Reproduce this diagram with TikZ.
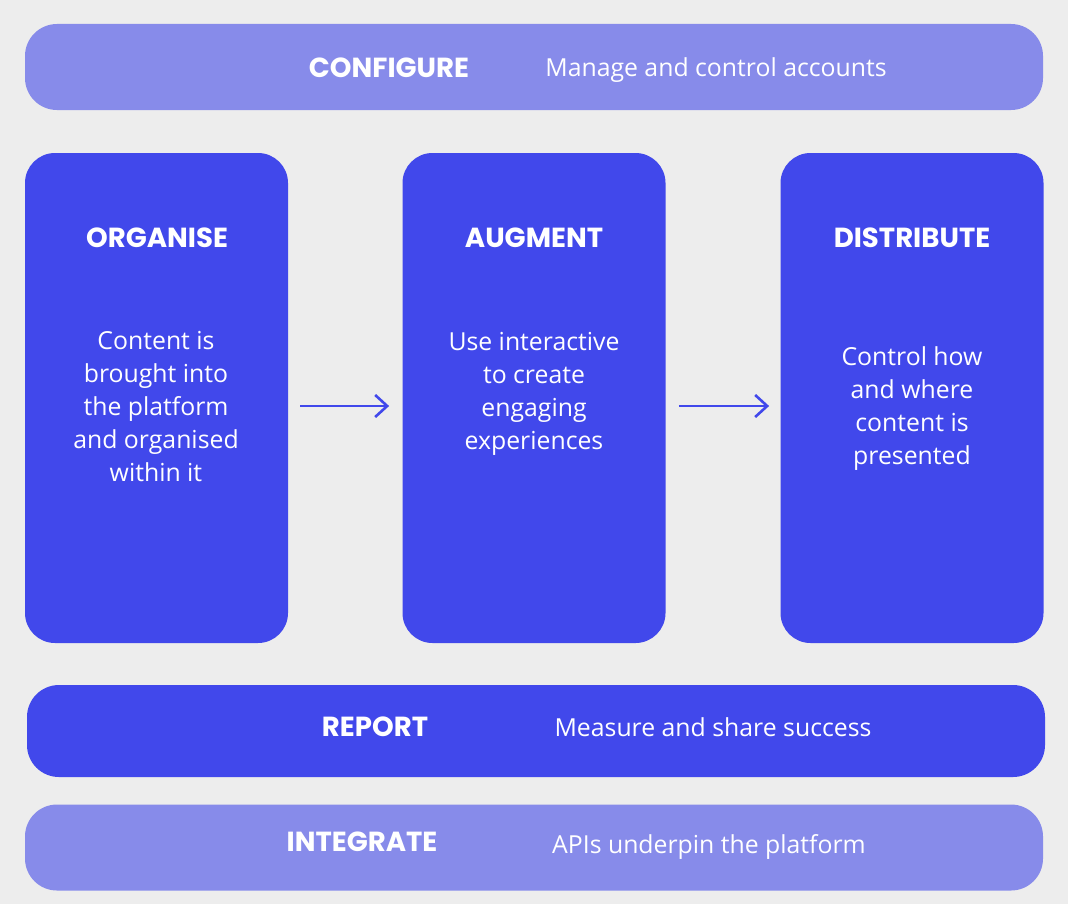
\documentclass[tikz,border=0pt]{standalone}
\usepackage{fontspec}
\setmainfont{Open Sans}
\newfontfamily\headfont{Poppins}
\usetikzlibrary{arrows.meta}
\definecolor{pagebg}{RGB}{237,237,237}
\definecolor{deepblue}{RGB}{65,72,235}
\definecolor{softblue}{RGB}{135,139,234}

\begin{document}
\begin{tikzpicture}[x=.5pt,y=-.5pt,
  bar/.style={rounded corners=16pt,minimum width=509pt,minimum height=43pt,inner sep=0pt},
  column/.style={fill=deepblue,rounded corners=15pt,minimum width=131.5pt,minimum height=245pt,inner sep=0pt},
  head/.style={text=white,font=\headfont\bfseries\fontsize{13.8}{16}\selectfont},
  body/.style={text=white,align=center,font=\fontsize{12.4}{16.5}\selectfont},
  flow/.style={draw=deepblue,line width=1.3pt,-{Straight Barb[length=6pt,width=11pt,line width=1.3pt]}}]
 \fill[pagebg] (0,0) rectangle (1068,904);
 \useasboundingbox (0,0) rectangle (1068,904);
 % top and bottom bands
 \node[bar,fill=softblue] (configure) at (534,67) {};
 \node[bar,fill=deepblue,minimum height=46pt] (report) at (536,731) {};
 \node[bar,fill=softblue] (integrate) at (534,847.5) {};
 \node[head] (configure-t) at (389,68) {CONFIGURE};
 \node[body] (configure-d) at (716,70) {Manage and control accounts};
 \node[head] (report-t) at (375,727) {REPORT};
 \node[body] (report-d) at (713,727) {Measure and share success};
 \node[head] (integrate-t) at (362,842) {INTEGRATE};
 \node[body] (integrate-d) at (709,847) {APIs underpin the platform};
 % the three stages
 \node[column] (organise) at (156.5,398) {};
 \node[column] (augment) at (534,398) {};
 \node[column] (distribute) at (912,398) {};
 \node[head] (organise-t) at (157,238) {ORGANISE};
 \node[head] (augment-t) at (534,238) {AUGMENT};
 \node[head] (distribute-t) at (912,238) {DISTRIBUTE};
 \node[body] (organise-d) at (156,407) {Content is\\brought into\\the platform\\and organised\\within it};
 \node[body] (augment-d) at (534,394) {Use interactive\\to create\\engaging\\experiences};
 \node[body] (distribute-d) at (912,409) {Control how\\and where\\content is\\presented};
 \draw[flow,shorten <=6pt,shorten >=6.5pt] ([yshift=-4pt]organise.east) -- ([yshift=-4pt]augment.west);
 \draw[flow,shorten <=6.5pt,shorten >=5.5pt] ([yshift=-4pt]augment.east) -- ([yshift=-4pt]distribute.west);
\end{tikzpicture}
\end{document}
